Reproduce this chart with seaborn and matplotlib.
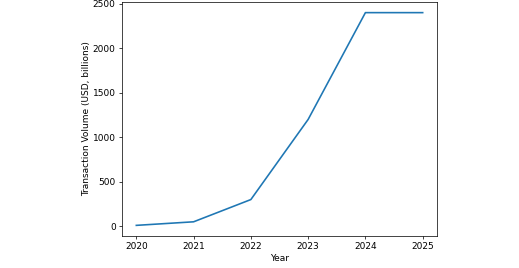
import matplotlib
matplotlib.use("Agg")
import matplotlib.pyplot as plt
import seaborn as sns
import pandas as pd

years = [2020, 2021, 2022, 2023, 2024, 2025]
volume = [10, 50, 300, 1200, 2400, 2400]

df = pd.DataFrame({"Year": years, "Volume": volume})

dpi = 519 / 8.0
fig = plt.figure(figsize=(8.0, 268 / dpi), dpi=dpi)
ax = fig.add_axes([122 / 519, 32 / 268, 315 / 519, 234 / 268])
sns.lineplot(data=df, x="Year", y="Volume", ax=ax, color="#1f77b4", linewidth=1.8)
ax.set_xlabel("Year", labelpad=2.5)
ax.set_ylabel("Transaction Volume (USD, billions)", labelpad=2)
ax.set_xticks(years)
ax.set_yticks([0, 500, 1000, 1500, 2000, 2500])
fig.savefig("out.png", dpi=dpi)
